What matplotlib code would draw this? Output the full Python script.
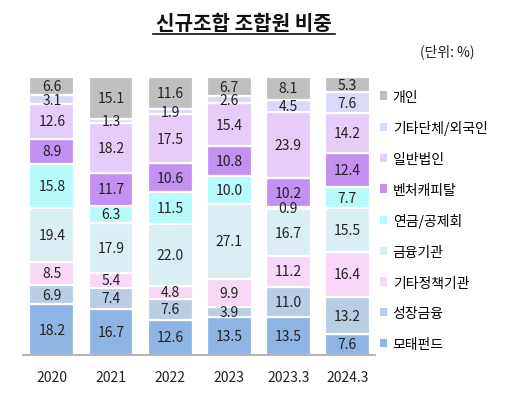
import matplotlib
matplotlib.use("Agg")
import matplotlib.pyplot as plt
from matplotlib.patches import Patch
import numpy as np

plt.rcParams['font.family'] = ['Noto Sans CJK KR', 'DejaVu Sans']

categories = ["2020", "2021", "2022", "2023", "2023.3", "2024.3"]
series_names = ["모태펀드", "성장금융", "기타정책기관", "금융기관", "연금/공제회",
                "벤처캐피탈", "일반법인", "기타단체/외국인", "개인"]
motae = [18.2, 16.7, 12.6, 13.5, 13.5, 7.6]
seongjang = [6.9, 7.4, 7.6, 3.9, 11.0, 13.2]
gita_jeongchaek = [8.5, 5.4, 4.8, 9.9, 11.2, 16.4]
geumyung = [19.4, 17.9, 22.0, 27.1, 16.7, 15.5]
yeongeum = [15.8, 6.3, 11.5, 10.0, 0.9, 7.7]
venture = [8.9, 11.7, 10.6, 10.8, 10.2, 12.4]
ilban = [12.6, 18.2, 17.5, 15.4, 23.9, 14.2]
gita_danche = [3.1, 1.3, 1.9, 2.6, 4.5, 7.6]
gaein = [6.6, 15.1, 11.6, 6.7, 8.1, 5.3]
values = [motae, seongjang, gita_jeongchaek, geumyung, yeongeum,
          venture, ilban, gita_danche, gaein]
colors = ["#8EB4E3", "#B9CDE5", "#F8D8F6", "#DAEEF3", "#B6FAFA",
          "#C490F2", "#E6CCF8", "#DADAF8", "#BFBFBF"]

fig = plt.figure(figsize=(5.17, 4.02), dpi=100)
W, H = 517, 402
ax = fig.add_axes([23 / W, (H - 356) / H, (375 - 23) / W, (356 - 78) / H])

x = np.arange(len(categories))
bottom = np.zeros(len(categories))
for name, vals, c in zip(series_names, values, colors):
    vals = np.array(vals)
    ax.bar(x, vals, bottom=bottom, width=0.76, color=c, edgecolor="white",
           linewidth=1.6, label=name)
    for xi, b, v in zip(x, bottom, vals):
        ax.text(xi, b + v / 2, f"{v:.1f}", ha="center", va="center",
                fontsize=10, color="#222222")
    bottom += vals

ax.set_xlim(-0.49, 5.47)
ax.set_ylim(0, 100)
for s in ["top", "right", "left"]:
    ax.spines[s].set_visible(False)
ax.spines["bottom"].set_color("#A6A6A6")
ax.spines["bottom"].set_linewidth(1.2)
ax.set_yticks([])
ax.set_xticks(x)
ax.set_xticklabels(categories, fontsize=10, color="#222222")
ax.tick_params(axis="x", length=0, pad=11)

handles = [Patch(facecolor=c, edgecolor="none") for c in colors][::-1]
labels = series_names[::-1]
leg = fig.legend(handles, labels, loc="upper left",
                 bbox_to_anchor=(374 / W, 1 - 85 / H), frameon=False,
                 fontsize=10, handlelength=0.55, handleheight=0.55,
                 handletextpad=0.4, labelspacing=1.2, borderaxespad=0)

fig.text(244 / W, 1 - 24 / H, "신규조합 조합원 비중", ha="center", va="center",
         fontsize=14.5, fontweight="bold", color="#111111")
fig.add_artist(plt.Line2D([153 / W, 335 / W], [1 - 35 / H, 1 - 35 / H],
                          color="#111111", linewidth=1.2))
fig.text(475 / W, 1 - 52 / H, "(단위: %)", ha="right", va="center",
         fontsize=10, color="#222222")

fig.savefig("out.png", dpi=100)
